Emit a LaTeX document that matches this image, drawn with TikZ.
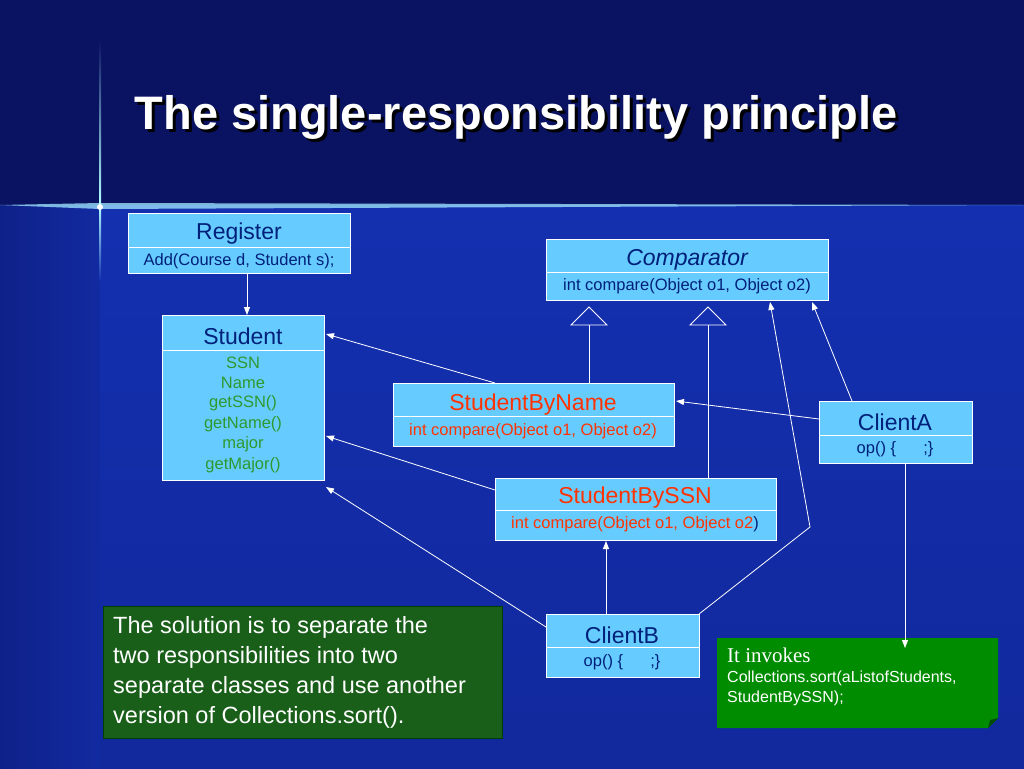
\documentclass[tikz,border=0pt]{standalone}
\usepackage{fontspec}
\setmainfont{Liberation Sans}
\newfontfamily\serifx{Liberation Serif}
\usetikzlibrary{arrows.meta,shapes.geometric}
\definecolor{boxc}{HTML}{66CCFF}
\definecolor{hdr}{HTML}{00207A}
\definecolor{grn}{HTML}{2E9A2E}
\definecolor{rd}{HTML}{FF3300}
\definecolor{topbg}{HTML}{0A1262}
\definecolor{lowbg}{HTML}{1430B0}
\tikzset{
  cls/.style={draw=white,fill=boxc,line width=0.6pt},
  sep/.style={draw=white,line width=0.6pt},
  con/.style={draw=white,line width=0.8pt,-{Triangle[width=6pt,length=8pt]}},
  inh/.style={draw=white,line width=0.8pt},
  hd/.style={font=\fontsize{23}{26}\selectfont,text=hdr},
  mb/.style={font=\fontsize{16.5}{18}\selectfont,text=hdr},
}
\begin{document}
\begin{tikzpicture}[x=1pt,y=-1pt]
\useasboundingbox (0,0) rectangle (1024,768);
\fill[topbg] (0,0) rectangle (1024,205);
\shade[top color=lowbg,bottom color=lowbg!75!topbg] (0,205) rectangle (1024,768);
\shade[left color=lowbg!50!topbg,right color=lowbg!80!topbg] (0,205) rectangle (100,768);
% sparkle
\fill[white!60!cyan,opacity=0.8] (0,205)--(100,203)--(1024,205)--(100,209)--cycle;
\shade[top color=topbg,bottom color=white!70!cyan] (99,40) rectangle (101,205);
\shade[top color=white!70!cyan,bottom color=lowbg] (99,205) rectangle (101,280);
\fill[white] (100,207) circle (3);
% title
\node[text=black,font=\bfseries\fontsize{47}{52}\selectfont] at (519,120) {The single-responsibility principle};
\node (title) [text=white,font=\bfseries\fontsize{47}{52}\selectfont] at (516,117) {The single-responsibility principle};
% Register
\draw[cls] (128,213) rectangle (350,273); \draw[sep] (128,247)--(350,247);
\node[hd] (reg) at (239,234) {Register};
\node[mb] at (239,261) {Add(Course d, Student s);};
% Comparator
\draw[cls] (546,239) rectangle (828,300); \draw[sep] (546,272)--(828,272);
\node[hd,font=\itshape\fontsize{23}{26}\selectfont] at (687,260) {Comparator};
\node[mb] at (687,286) {int compare(Object o1, Object o2)};
% Student
\draw[cls] (162,315) rectangle (324,480); \draw[sep] (162,350)--(324,350);
\node[hd] at (243,336) {Student};
\foreach \t [count=\i] in {SSN,Name,getSSN(),getName(),major,getMajor()}
  \node[mb,text=grn] at (243,342+20.5*\i) {\t};
% StudentByName
\draw[cls] (393,383) rectangle (674,446); \draw[sep] (393,416)--(674,416);
\node[hd,text=rd] at (533,405) {StudentByName};
\node[mb,text=rd] at (533,431) {int compare(Object o1, Object o2)};
% ClientA
\draw[cls] (819,401) rectangle (972,463); \draw[sep] (819,435)--(972,435);
\node[hd] at (895,422) {ClientA};
\node[mb] at (895,449) {op() \{ \hspace{18pt} ;\}};
% StudentBySSN
\draw[cls] (495,478) rectangle (776,540); \draw[sep] (495,510)--(776,510);
\node[hd,text=rd] at (635,498) {StudentBySSN};
\node[mb,text=rd] at (635,524) {int compare(Object o1, Object o2\textcolor{hdr}{)}};
% ClientB
\draw[cls] (546,614) rectangle (699,677); \draw[sep] (546,647)--(699,647);
\node[hd] at (622,635) {ClientB};
\node[mb] at (622,662) {op() \{ \hspace{18pt} ;\}};
% notes
\draw[fill=green!30!black!90,draw=green!25!black] (103,606) rectangle (502,738);
\node[anchor=north west,text=white,align=left,font=\fontsize{23.5}{30}\selectfont,inner sep=0pt] (sol) at (113,616) {The solution is to separate the\\two responsibilities into two\\separate classes and use another\\version of Collections.sort().};
\fill[green!55!black] (717,638)--(998,638)--(998,718)--(988,728)--(717,728)--cycle;
\fill[green!30!black] (998,718)--(988,728)--(990,720)--cycle;
\node[anchor=north west,text=white,align=left,font=\fontsize{16}{20}\selectfont,inner sep=0pt] (inv) at (727,648) {{\serifx\fontsize{21}{22}\selectfont It invokes}\\Collections.sort(aListofStudents,\\StudentBySSN);};
% connectors
\draw[con] (247,273)--(247,315);
\draw[con] (495,383)--(326,334);
\draw[con] (495,490)--(326,436);
\draw[con] (546,627)--(326,487);
\draw[con] (819,419)--(676,401);
\draw[con] (905,463)--(905,648);
\draw[con] (606,614)--(606,541);
\draw[con] (852,401)--(812,302);
\draw[con] (699,614)--(810,527)--(770,302);
\draw[inh] (589,383)--(589,325); \draw[inh,fill=lowbg] (571,325)--(589,307)--(607,325)--cycle;
\draw[inh] (708,478)--(708,325); \draw[inh,fill=lowbg] (690,325)--(708,307)--(726,325)--cycle;
\end{tikzpicture}
\end{document}
